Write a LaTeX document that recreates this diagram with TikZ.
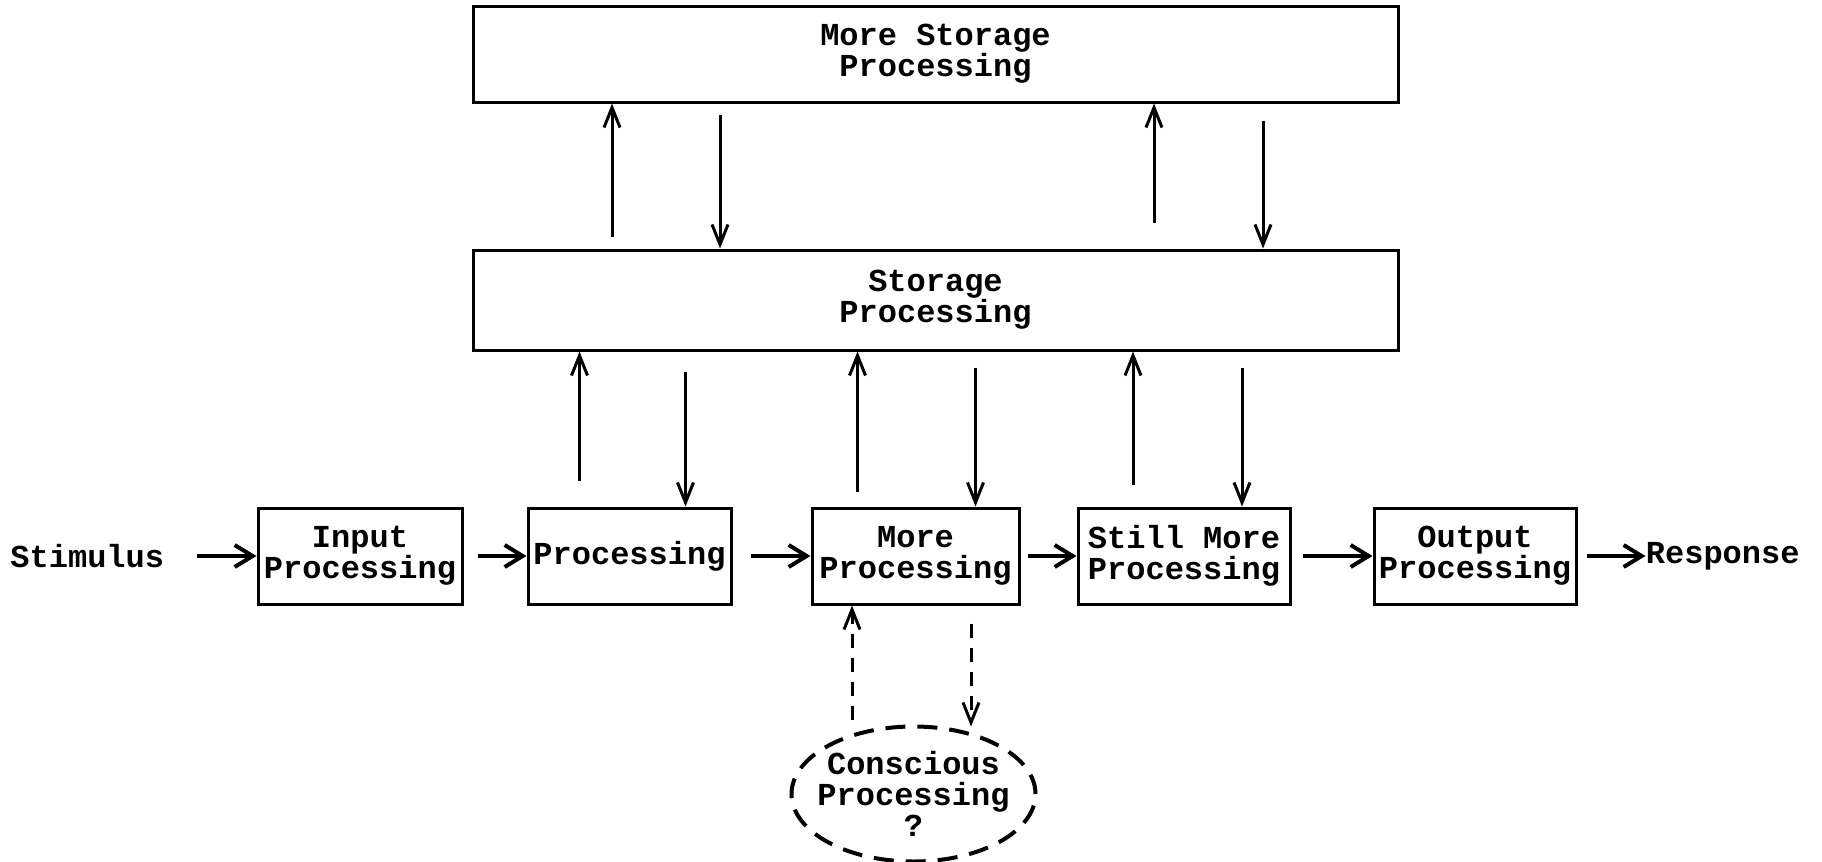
\documentclass[tikz,border=0pt]{standalone}
\usepackage{fontspec}
\usepackage{tikz}
\usetikzlibrary{arrows.meta,positioning,shapes.geometric}
\newfontfamily\typewr{Liberation Mono}
\tikzset{
  stagebox/.style={rectangle, draw=black, line width=1.5pt, align=center, inner sep=0pt, minimum height=48pt},
  storebox/.style={stagebox, minimum width=462.5pt},
  consc/.style={ellipse, draw=black, line width=2pt, dash pattern=on 10pt off 6pt, align=center,
                inner xsep=-5pt, inner ysep=0pt, minimum width=122pt, minimum height=67.5pt},
  lbl/.style={inner sep=0pt},
  flow/.style={-{Straight Barb[length=10pt,width=8pt,line width=1.5pt]}, line width=1.5pt},
  hflow/.style={-{Straight Barb[length=9pt,width=11pt,line width=2pt]}, line width=2pt},
  dflow/.style={flow, dash pattern=on 7pt off 5pt}
}
\begin{document}
\begin{tikzpicture}[x=0.5pt, y=-0.5pt, font=\typewr\bfseries\fontsize{16}{15.5}\selectfont]
 \useasboundingbox (0,0) rectangle (1822,862);
 % main chain
 \node[stagebox, minimum width=102pt] (inp) at (360,556) {Input\\Processing};
 \node[stagebox, minimum width=101.5pt, right=31.5pt of inp] (proc) {Processing};
 \node[stagebox, minimum width=103.5pt, right=39pt of proc] (more) {More\\Processing};
 \node[stagebox, minimum width=106pt, right=28pt of more] (still) {Still More\\Processing};
 \node[stagebox, minimum width=101pt, right=40.5pt of still] (outp) {Output\\Processing};
 \node[lbl, left=46pt of inp] (stim) {Stimulus};
 \node[lbl, right=34pt of outp] (resp) {Response};
 % storage levels
 \node[storebox, minimum height=50pt] (store) at (935.5,300) {Storage\\Processing};
 \node[storebox, above=72.5pt of store] (mstore) {More Storage\\Processing};
 \node[consc, below=59.5pt of more, xshift=-1pt] (cons) {Conscious\\Processing\\?};
 \draw[hflow] ([xshift=16pt]stim.east) -- (inp);
 \draw[hflow] ([xshift=7pt]inp.east) -- (proc);
 \draw[hflow] ([xshift=9pt]proc.east) -- (more);
 \draw[hflow] ([xshift=3.5pt]more.east) -- (still);
 \draw[hflow] ([xshift=5.5pt]still.east) -- (outp);
 \draw[hflow] ([xshift=4.5pt]outp.east) -- (resp);
 % stages <-> storage
 \draw[flow] ([xshift=-25pt,yshift=13pt]proc.north) -- ([xshift=-25pt]proc.north |- store.south);
 \draw[flow] ([xshift=28pt,yshift=-10pt]proc.north |- store.south) -- ([xshift=28pt]proc.north);
 \draw[flow] ([xshift=-29pt,yshift=7.5pt]more.north) -- ([xshift=-29pt]more.north |- store.south);
 \draw[flow] ([xshift=30pt,yshift=-8pt]more.north |- store.south) -- ([xshift=30pt]more.north);
 \draw[flow] ([xshift=-25.5pt,yshift=11pt]still.north) -- ([xshift=-25.5pt]still.north |- store.south);
 \draw[flow] ([xshift=29pt,yshift=-8pt]still.north |- store.south) -- ([xshift=29pt]still.north);
 % storage <-> more storage
 \draw[flow] ([xshift=-161.75pt,yshift=6pt]store.north) -- ([xshift=-161.75pt]mstore.south);
 \draw[flow] ([xshift=-107.75pt,yshift=-5.5pt]mstore.south) -- ([xshift=-107.75pt]store.north);
 \draw[flow] ([xshift=109.25pt,yshift=13pt]store.north) -- ([xshift=109.25pt]mstore.south);
 \draw[flow] ([xshift=163.75pt,yshift=-8.5pt]mstore.south) -- ([xshift=163.75pt]store.north);
 % conscious loop
 \draw[dflow] ([xshift=-31.75pt,yshift=-57pt]more.south) -- ([xshift=-31.75pt]more.south);
 \draw[dflow] ([xshift=27.75pt,yshift=-9pt]more.south) -- ([xshift=27.75pt,yshift=-60.5pt]more.south);
\end{tikzpicture}
\end{document}
